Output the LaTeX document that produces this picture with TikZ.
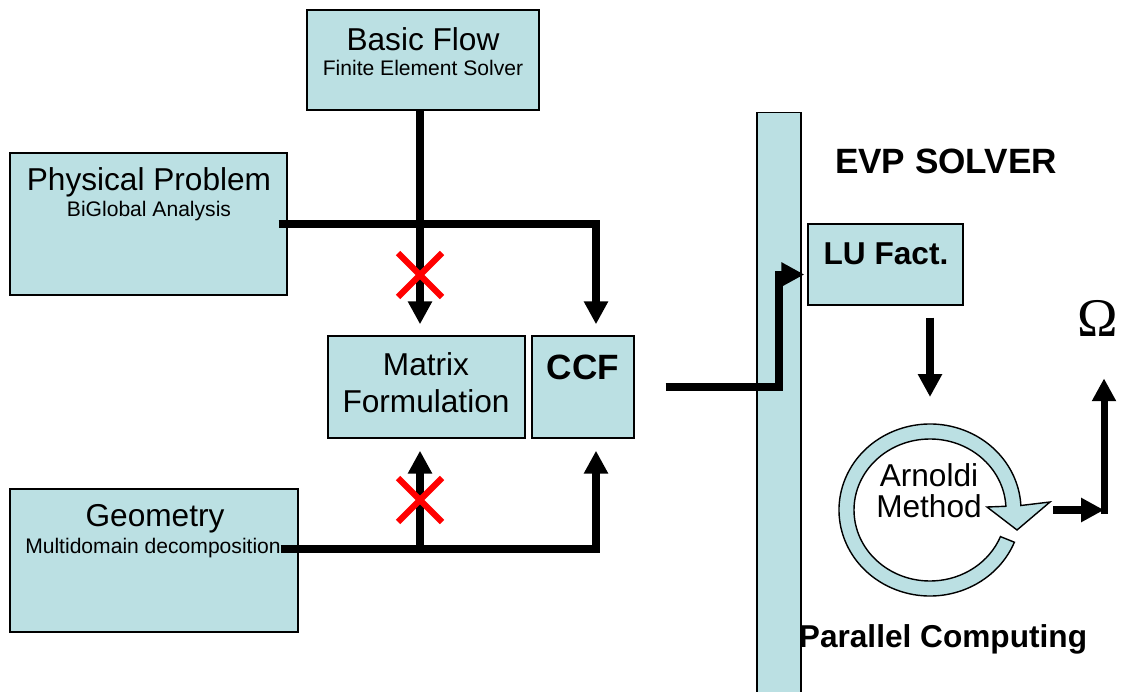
\documentclass[tikz,border=0pt]{standalone}
\usepackage{fontspec}
\setmainfont{Liberation Sans}
\newfontfamily\omegafont{Liberation Serif}
\usetikzlibrary{arrows.meta,calc}

\definecolor{boxblue}{RGB}{187,224,227}
\def\pxu{0.02cm}

\tikzset{
    box/.style={draw, line width=0.8pt, fill=boxblue, inner sep=0pt},
    ttl/.style={font=\fontsize{18}{21}\selectfont, inner sep=0pt, align=center},
    sub/.style={font=\fontsize{12}{14}\selectfont, inner sep=0pt},
    bold/.style={font=\fontsize{20}{24}\selectfont\bfseries, inner sep=0pt},
    flow/.style={line width=4pt},
    flowarr/.style={flow, -{Triangle[width=13pt,length=13pt]}},
    cross/.style={red, line width=3.5pt}
}

\begin{document}
\begin{tikzpicture}[x=\pxu, y=-\pxu]
    \useasboundingbox (0,0) rectangle (1129,692);

    % Draw input boxes
    \node[box, minimum width=232*\pxu, minimum height=100*\pxu] (basic) at (423,60) {};
    \node[box, minimum width=277*\pxu, minimum height=142*\pxu] (phys) at (148.5,224) {};
    \node[box, minimum width=288*\pxu, minimum height=143*\pxu] (geom) at (154,560.5) {};
    \node[box, minimum width=197*\pxu, minimum height=102*\pxu] (matrix) at (426.5,387) {};
    \node[box, minimum width=102*\pxu, minimum height=102*\pxu] (ccf) at (583,387) {};

    % Draw box texts
    \node[ttl] (basicT) at (423,39) {Basic Flow};
    \node[sub] (basicS) at (423,68) {Finite Element Solver};
    \node[ttl] (physT) at (149,182) {Physical Problem};
    \node[sub] (physS) at (149,211) {BiGlobal Analysis};
    \node[ttl] (geomT) at (155,519) {Geometry};
    \node[sub] (geomS) at (153,548) {Multidomain decomposition};
    \node[ttl] (matrixT) at (426,383) {Matrix\\Formulation};
    \node[bold] (ccfT) at (583,367) {CCF};

    % Columns of the vertical arrows
    \coordinate (colA) at (420,0);
    \coordinate (colB) at (596,0);
    \coordinate (junc) at (420,549);

    % Draw arrows into the formulation
    \draw[flowarr, shorten >=11*\pxu] (basic.south -| colA) -- (matrix.north -| colA);
    \draw[flowarr, shorten >=11*\pxu] ([xshift=-9*\pxu]phys.east) -| (ccf.north -| colB);
    \draw[flowarr, shorten >=12*\pxu] ([xshift=-18*\pxu, yshift=11.5*\pxu]geom.east) -| (ccf.south -| colB);
    \draw[flowarr, shorten >=12*\pxu] (junc) -- (matrix.south -| colA);

    % Draw red crosses
    \foreach \cy in {275,500} {
        \draw[cross] (398,\cy-22) -- (442,\cy+22) (398,\cy+22) -- (442,\cy-22);
    }

    % Draw parallel computing bar
    \node[box, minimum width=44*\pxu, minimum height=588*\pxu, anchor=north] (bar) at (779,112) {};
    \node[bold] (evp) at (946,161) {EVP SOLVER};
    \node[font=\fontsize{18}{21}\selectfont\bfseries, inner sep=0pt] (parallel) at (943,639) {Parallel Computing};

    % Draw LU factorisation
    \node[box, minimum width=155*\pxu, minimum height=81*\pxu] (lu) at (885.5,264.5) {};
    \node[font=\fontsize{18}{21}\selectfont\bfseries, inner sep=0pt] (luT) at (886,254) {LU Fact.};
    \coordinate (luin) at ([yshift=-10*\pxu]lu.west);
    \draw[flowarr, shorten >=3*\pxu] ([xshift=31*\pxu]ccf.east) -| (bar.center |- luin) -- (luin);

    % Draw Arnoldi loop
    \coordinate (arn) at (930,510);
    \filldraw[fill=boxblue, line width=0.8pt] (arn) ++(22:91 and 86)
        arc[start angle=22, end angle=357, x radius=91, y radius=86]
        -- (1050,502) -- (1017,530) -- (987,507)
        -- ($(arn)+(357:76 and 71)$)
        arc[start angle=357, end angle=22, x radius=76, y radius=71] -- cycle;
    \node[font=\fontsize{18}{17.6}\selectfont, inner sep=0pt, align=center] (arnT) at (929,491) {Arnoldi\\Method};
    \draw[flowarr, shorten <=12*\pxu, shorten >=113*\pxu] (lu.south -| arn) -- (arn);

    % Draw output
    \node[font=\fontsize{31}{34}\selectfont\omegafont, inner sep=0pt] (omega) at (1098,318) {Ω};
    \coordinate (outc) at (1104,510);
    \draw[flowarr, shorten <=123*\pxu] (arn) -- (outc);
    \draw[flowarr, shorten >=42*\pxu] ([yshift=-3.5*\pxu]outc) -- (outc |- omega.south);
\end{tikzpicture}
\end{document}
